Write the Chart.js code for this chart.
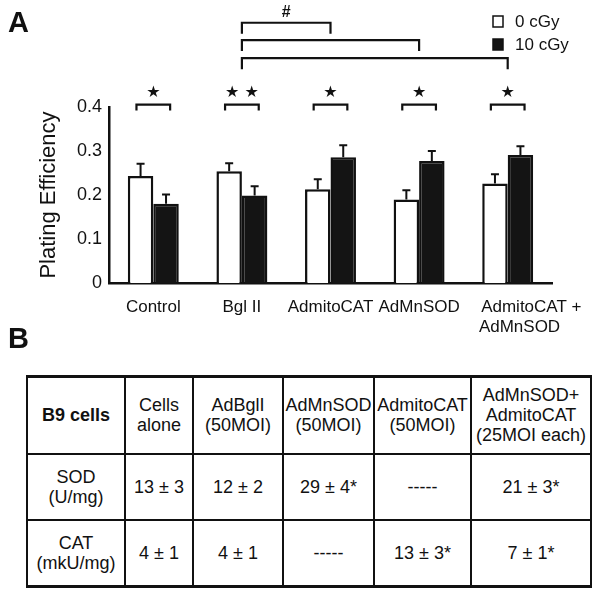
<!DOCTYPE html>
<html>
<head>
<meta charset="utf-8">
<title>Plating Efficiency</title>
<script src="https://cdn.jsdelivr.net/npm/chart.js@4.4.1/dist/chart.umd.min.js"></script>
<style>
  body { margin: 0; background: #fff; }
  #page { position: relative; width: 600px; height: 596px; overflow: hidden;
          font-family: "Liberation Sans", Arial, sans-serif; color: #111; }
  #plate { position: absolute; left: 0; top: 0; }
  .panel { position: absolute; font-weight: bold; font-size: 29px; line-height: 29px; }
  #tbl { position: absolute; left: 26px; top: 375px; width: 564px; border-collapse: collapse;
         table-layout: fixed; font-size: 18px; line-height: 20px; text-align: center; }
  #tbl td { border: 2.5px solid #111; padding: 0; vertical-align: middle; white-space: pre-line; }
  #tbl tr:first-child td { border-top-width: 3.5px; }
  #tbl tr:last-child td { border-bottom-width: 3.5px; }
  #tbl td.head { font-weight: bold; font-size: 18px; }
</style>
</head>
<body>
<div id="page">
  <canvas id="plate" width="600" height="335"></canvas>
  <div class="panel" style="left:8px; top:8px;">A</div>
  <div class="panel" style="left:8px; top:324px;">B</div>
  <table id="tbl">
    <colgroup>
      <col style="width:98px"><col style="width:68px"><col style="width:90px">
      <col style="width:91px"><col style="width:97px"><col style="width:120px">
    </colgroup>
    <tbody id="tblBody"></tbody>
  </table>
</div>

<script>
// ===== DATA =====
// last label is set off to the right in the original, hence the leading spaces
const categories = ['Control', 'Bgl II', 'AdmitoCAT', 'AdMnSOD',
  ['          AdmitoCAT +', '     AdMnSOD']];
const seriesLabels = ['0 cGy', '10 cGy'];
const pe0 = [0.243, 0.254, 0.213, 0.190, 0.226];   // plating efficiency, 0 cGy
const pe10 = [0.180, 0.199, 0.286, 0.277, 0.291];  // plating efficiency, 10 cGy
const err0 = [0.028, 0.018, 0.023, 0.021, 0.021];
const err10 = [0.021, 0.021, 0.027, 0.023, 0.020];
const yTicks = [0, 0.1, 0.2, 0.3, 0.4];
const yTickLabels = ['0', '0.1', '0.2', '0.3', '0.4'];
const pairStars = ['★', '★ ★', '★', '★', '★'];
const groupBrackets = [
  { from: 1, to: 2, label: '#' },
  { from: 1, to: 3, label: '' },
  { from: 1, to: 4, label: '' }
];

// table (panel B)
const tableHead = ['B9 cells', 'Cells\nalone', 'AdBglI\n(50MOI)', 'AdMnSOD\n(50MOI)', 'AdmitoCAT\n(50MOI)', 'AdMnSOD+\nAdmitoCAT\n(25MOI each)'];
const sodRow = ['SOD\n(U/mg)', '13 ± 3', '12 ± 2', '29 ± 4*', '-----', '21 ± 3*'];
const catRow = ['CAT\n(mkU/mg)', '4 ± 1', '4 ± 1', '-----', '13 ± 3*', '7 ± 1*'];

const INK = '#111111';
const FONT = "'Liberation Sans', Arial, sans-serif";

// ===== TABLE =====
function buildTable() {
  const body = document.getElementById('tblBody');
  const rows = [[tableHead, 77], [sodRow, 66], [catRow, 67]];
  rows.forEach(([cells, h], r) => {
    const tr = document.createElement('tr');
    tr.style.height = h + 'px';
    cells.forEach((txt, c) => {
      const td = document.createElement('td');
      td.textContent = txt;
      if (r === 0 && c === 0) td.className = 'head';
      tr.appendChild(td);
    });
    body.appendChild(tr);
  });
}

// ===== CHART PLUGINS =====
const errorBars = {
  id: 'errorBars',
  afterDatasetsDraw(chart) {
    const { ctx, scales: { y } } = chart;
    ctx.save();
    ctx.strokeStyle = INK;
    ctx.lineWidth = 2;
    chart.data.datasets.forEach((ds, i) => {
      chart.getDatasetMeta(i).data.forEach((bar, j) => {
        const top = y.getPixelForValue(ds.data[j] + ds.errors[j]);
        ctx.beginPath();
        ctx.moveTo(bar.x, bar.y);
        ctx.lineTo(bar.x, top);
        ctx.moveTo(bar.x - 4, top);
        ctx.lineTo(bar.x + 4, top);
        ctx.stroke();
      });
    });
    ctx.restore();
  }
};

const annotations = {
  id: 'annotations',
  afterDraw(chart, args, opts) {
    const { ctx, scales: { x, y } } = chart;
    const step = x.getPixelForValue(1) - x.getPixelForValue(0);

    function bracket(x1, x2, top, leg) {
      ctx.beginPath();
      ctx.moveTo(x1, top + leg);
      ctx.lineTo(x1, top);
      ctx.lineTo(x2, top);
      ctx.lineTo(x2, top + leg);
      ctx.stroke();
    }

    ctx.save();
    ctx.strokeStyle = INK;
    ctx.fillStyle = INK;
    ctx.lineWidth = 2.2;
    ctx.textAlign = 'center';
    ctx.textBaseline = 'middle';

    // significance between the two doses
    const half = step * opts.pairHalf;
    const pairTop = y.getPixelForValue(opts.pairLevel);
    ctx.font = "16px 'DejaVu Sans'";
    pairStars.forEach((s, i) => {
      const cx = x.getPixelForValue(i);
      bracket(cx - half, cx + half, pairTop, 6);
      ctx.fillText(s, cx, y.getPixelForValue(opts.starLevel));
    });

    // significance between groups
    groupBrackets.forEach((g, k) => {
      const x1 = x.getPixelForValue(g.from);
      const x2 = x.getPixelForValue(g.to);
      const top = y.getPixelForValue(opts.groupLevels[k]);
      bracket(x1, x2, top, 11);
      if (g.label) {
        ctx.font = "bold 16px " + FONT;
        ctx.fillText(g.label, (x1 + x2) / 2, y.getPixelForValue(opts.hashLevel));
      }
    });

    // legend
    const L = opts.legend;
    ctx.font = "17px " + FONT;
    ctx.textAlign = 'left';
    chart.data.datasets.forEach((ds, i) => {
      const by = L.y + i * L.gap;
      ctx.fillStyle = ds.backgroundColor;
      ctx.fillRect(L.x, by, L.box, L.box + 1);
      ctx.lineWidth = 1.5;
      ctx.strokeRect(L.x, by, L.box, L.box + 1);
      ctx.fillStyle = INK;
      ctx.fillText(ds.label, L.x + L.box + 12, by + L.box / 2 + 1);
    });
    ctx.restore();
  }
};

// ===== CHART =====
function renderChart() {
  const ctx = document.getElementById('plate').getContext('2d');
  new Chart(ctx, {
    type: 'bar',
    data: {
      labels: categories,
      datasets: [
        { label: seriesLabels[0], data: pe0, errors: err0, backgroundColor: '#ffffff',
          borderColor: INK, borderWidth: 2.5 },
        { label: seriesLabels[1], data: pe10, errors: err10, backgroundColor: '#141414',
          borderColor: INK, borderWidth: 2.5 }
      ]
    },
    options: {
      responsive: false,
      animation: false,
      layout: { padding: { left: 0, right: 48, top: 107, bottom: 0 } },
      datasets: { bar: { categoryPercentage: 0.575, barPercentage: 1, borderSkipped: 'bottom' } },
      plugins: {
        legend: { display: false },
        tooltip: { enabled: false },
        annotations: {
          pairHalf: 0.19,
          pairLevel: 0.4055,
          starLevel: 0.432,
          groupLevels: [0.5915, 0.552, 0.511],
          hashLevel: 0.614,
          legend: { x: 493, y: 16, box: 10, gap: 23 }
        }
      },
      scales: {
        x: {
          grid: { display: false },
          border: { display: true, color: INK, width: 2.5 },
          ticks: {
            color: INK, padding: 6, maxRotation: 0, autoSkip: false,
            font: { family: FONT, size: 17, lineHeight: 1.18 }
          },
          afterFit: (s) => { s.height = 52; }
        },
        y: {
          min: 0,
          max: 0.4,
          grid: { display: false, drawTicks: false },
          border: { display: true, color: INK, width: 2.5 },
          afterBuildTicks: (s) => { s.ticks = yTicks.map(v => ({ value: v })); },
          ticks: {
            color: INK, padding: 7,
            font: { family: FONT, size: 18 },
            callback: (v, i) => yTickLabels[i]
          },
          title: {
            display: true, text: 'Plating Efficiency', color: INK,
            font: { family: FONT, size: 22 }, padding: { top: 36, bottom: 0 }
          },
          afterFit: (s) => { s.width = 109; }
        }
      }
    },
    plugins: [errorBars, annotations]
  });
}

document.addEventListener('DOMContentLoaded', () => {
  buildTable();
  renderChart();
});
</script>
</body>
</html>
